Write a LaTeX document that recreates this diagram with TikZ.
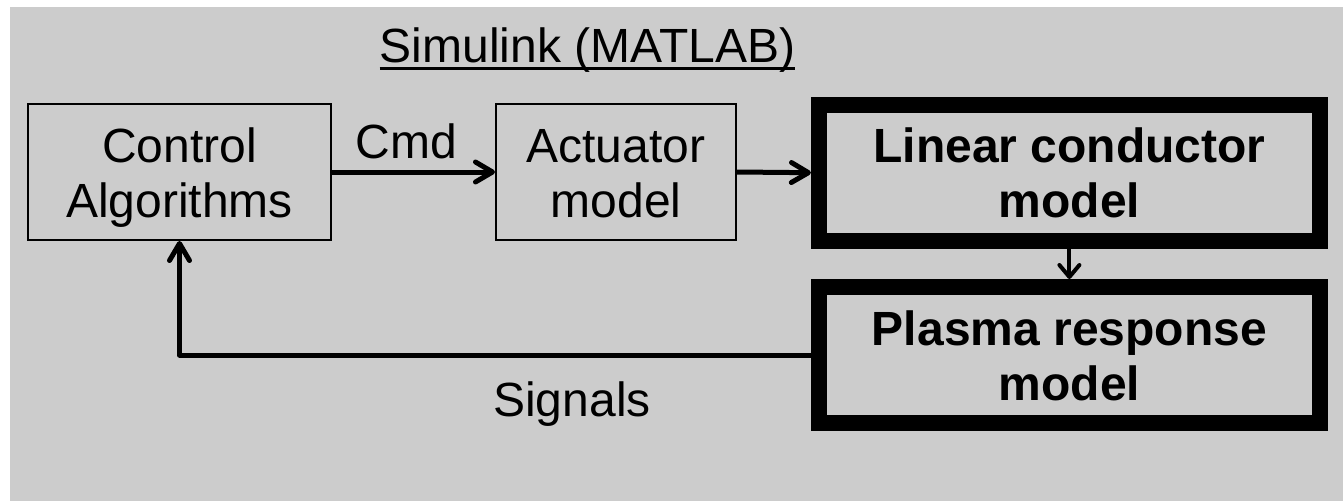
\documentclass[tikz,border=0pt]{standalone}
\usepackage{fontspec}
\setmainfont{Liberation Sans}
\usetikzlibrary{arrows.meta}
\definecolor{bg}{RGB}{204,204,204}
\begin{document}
\begin{tikzpicture}[x=1pt,y=-1pt,
  lab/.style={font=\fontsize{48}{55}\selectfont, inner sep=0pt},
  boxtext/.style={lab, align=center, text height=90pt, text depth=0pt},
  thinbox/.style={boxtext, draw=black, line width=2pt, minimum height=136pt},
  thickbox/.style={boxtext, draw=black, line width=16pt, minimum width=501pt, minimum height=136pt, font=\fontsize{48}{55}\selectfont\bfseries},
  arr/.style={line width=5pt, -{Straight Barb[length=17pt,width=20pt,line cap=round,line join=round]}},
  darr/.style={line width=4pt, -{Straight Barb[length=12pt,width=20pt,line cap=round,line join=round]}},
  uline/.style={line width=3pt}
]
\useasboundingbox (0,0) rectangle (1343,501);
\fill[bg] (10,7) rectangle (1343,501);
\node[lab, anchor=base] (title) at (587.5,62) {Simulink (MATLAB)};
\draw[uline] ([yshift=-6.5pt]title.base west) -- ([yshift=-6.5pt]title.base east);
\node[thinbox, minimum width=303pt] (ctrl) at (179.5,172) {Control\\Algorithms};
\node[thinbox, minimum width=240pt] (act) at (616,172) {Actuator\\model};
\node[thickbox] (lin) at (1069.4,172.7) {Linear conductor\\model};
\node[thickbox] (pla) at (1069.4,355) {Plasma response\\model};
\node[lab, anchor=base] (sig) at (572,416) {Signals};
\draw[arr] (ctrl.east) -- node[lab, anchor=base, yshift=14pt, xshift=-7pt] (cmd) {Cmd} (act.west);
\draw[arr] (act.east) -- (lin.west);
\draw[darr] (lin.south) -- (pla.north);
\draw[arr, line join=round] (pla.west) -| (ctrl.south);
\end{tikzpicture}
\end{document}
